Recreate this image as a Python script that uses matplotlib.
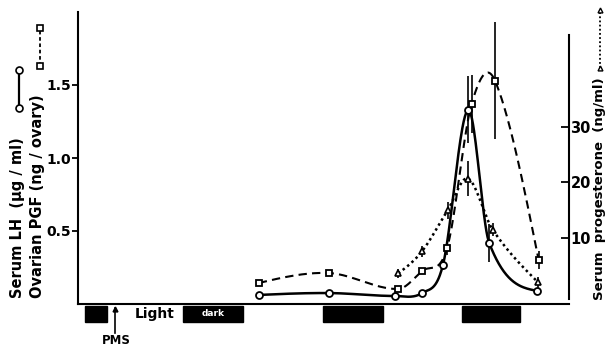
import numpy as np
import matplotlib
matplotlib.use("Agg")
import matplotlib.pyplot as plt
from matplotlib.patches import Rectangle
from matplotlib.lines import Line2D
import matplotlib.transforms as mtransforms

# ---- data (time in hours) ----
lh_t = [31, 43, 54.3, 59, 62.6, 66.9, 70.5, 78.7]
lh_v = [0.062, 0.075, 0.055, 0.075, 0.27, 1.33, 0.42, 0.09]
lh_err = [0.0, 0.0, 0.0, 0.0, 0.04, 0.23, 0.13, 0.0]

pgf_t = [31, 43, 54.9, 59, 63.3, 67.5, 71.5, 79.0]
pgf_v = [0.144, 0.212, 0.103, 0.226, 0.384, 1.37, 1.53, 0.30]
pgf_err = [0.02, 0.02, 0.0, 0.0, 0.05, 0.2, 0.4, 0.06]

prog_t = [54.9, 59, 63.4, 66.9, 71.1, 78.9]
prog_v = [3.6, 7.6, 15.0, 20.7, 11.5, 2.0]
prog_err = [0.8, 1.0, 1.5, 3.1, 1.2, 1.0]

dark_start = [1.2, 18.0, 42.0, 65.8]
dark_end = [5.0, 28.3, 52.3, 75.8]

left_ticks = [0.5, 1.0, 1.5]
left_ticklabels = ["0.5", "1.0", "1.5"]
right_ticks = [10, 20, 30]


def smooth(x, y, n=40):
    x = np.asarray(x, float); y = np.asarray(y, float)
    d = np.diff(y) / np.diff(x)
    m = np.zeros_like(y)
    m[1:-1] = (y[2:] - y[:-2]) / (x[2:] - x[:-2])
    m[0] = (3 * d[0] - m[1]) / 2
    m[-1] = (3 * d[-1] - m[-2]) / 2
    xs, ys = [], []
    for i in range(len(x) - 1):
        h = x[i + 1] - x[i]
        s = np.linspace(0, 1, n)
        h00 = 2 * s**3 - 3 * s**2 + 1
        h10 = s**3 - 2 * s**2 + s
        h01 = -2 * s**3 + 3 * s**2
        h11 = s**3 - s**2
        xs.append(x[i] + s * h)
        ys.append(h00 * y[i] + h10 * h * m[i] + h01 * y[i + 1] + h11 * h * m[i + 1])
    return np.concatenate(xs), np.concatenate(ys)


plt.rcParams['font.family'] = ['DejaVu Sans']
fig = plt.figure(figsize=(6.1, 3.5), dpi=100)
ax = fig.add_axes([78 / 610, 46 / 350, 491 / 610, 292 / 350])
ax2 = ax.twinx()

ax.set_xlim(0, 84.2)
ax.set_ylim(0, 2.0)
ax2.set_ylim(-1.9, 50.7)

# curves
x, y = smooth(lh_t, lh_v)
ax.plot(x, y, color='black', lw=1.8, solid_capstyle='round')
ax.errorbar(lh_t, lh_v, yerr=lh_err, fmt='o', ms=5, mfc='white', mec='black',
            mew=1.3, ecolor='black', elinewidth=1.2, capsize=0, zorder=5)

x, y = smooth(pgf_t, pgf_v)
ax.plot(x, y, color='black', lw=1.5, ls=(0, (4, 2.5)))
ax.errorbar(pgf_t, pgf_v, yerr=pgf_err, fmt='s', ms=4.5, mfc='white', mec='black',
            mew=1.3, ecolor='black', elinewidth=1.2, capsize=0, zorder=5)

x, y = smooth(prog_t, prog_v)
ax2.plot(x, y, color='black', lw=1.8, ls=(0, (1, 1.3)))
ax2.errorbar(prog_t, prog_v, yerr=prog_err, fmt='^', ms=4.5, mfc='white', mec='black',
             mew=1.2, ecolor='black', elinewidth=1.2, capsize=0, zorder=5)

# axes styling
for a in (ax, ax2):
    a.spines['top'].set_visible(False)
    a.set_xticks([])
ax.spines['right'].set_visible(False)
ax2.spines['left'].set_visible(False)
ax2.spines['bottom'].set_visible(False)
for sp in ('left', 'bottom'):
    ax.spines[sp].set_linewidth(1.5)
ax2.spines['right'].set_linewidth(1.5)
ax2.spines['right'].set_bounds(-1.0, 46.6)

ax.set_yticks(left_ticks)
ax.set_yticklabels(left_ticklabels)
ax.tick_params(axis='y', direction='out', length=4, width=1.3, labelsize=10, pad=1)
ax2.set_yticks(right_ticks)
ax2.tick_params(axis='y', direction='in', length=6, width=1.3, labelsize=10.5, pad=1)
for lab in ax.get_yticklabels() + ax2.get_yticklabels():
    lab.set_fontweight('bold')

# light/dark bars
trans = mtransforms.blended_transform_factory(ax.transData, ax.transAxes)
for s, e in zip(dark_start, dark_end):
    ax.add_patch(Rectangle((s, -0.0616), e - s, 0.055, transform=trans,
                           facecolor='black', edgecolor='black', clip_on=False))
ax.text((dark_start[1] + dark_end[1]) / 2, -0.034, 'dark', transform=trans,
        color='white', fontsize=6.5, fontweight='bold', ha='center', va='center')
fig.text(135 / 610, 1 - 314 / 350, 'Light', fontsize=10, fontweight='bold',
         ha='left', va='center')
fig.text(116 / 610, 1 - 340 / 350, 'PMS', fontsize=8.5, fontweight='bold',
         ha='center', va='center')
fig.add_artist(Line2D([115 / 610, 115 / 610], [1 - 333 / 350, 1 - 308 / 350],
                      color='black', lw=1.2))
fig.add_artist(Line2D([115 / 610], [1 - 309 / 350], marker='^', ms=3.5,
                      color='black', lw=0))

# left labels with symbols
fig.text(18 / 610, 1 - 298 / 350, 'Serum LH  (µg / ml)', rotation=90,
         fontsize=10.5, fontweight='bold', ha='center', va='bottom')
fig.text(38 / 610, 1 - 298 / 350, 'Ovarian PGF (ng / ovary)', rotation=90,
         fontsize=10.5, fontweight='bold', ha='center', va='bottom')
fig.add_artist(Line2D([19 / 610, 19 / 610], [1 - 108 / 350, 1 - 70 / 350],
                      color='black', lw=1.6, marker='o', ms=5, mfc='white',
                      mec='black', mew=1.2))
fig.add_artist(Line2D([40 / 610, 40 / 610], [1 - 66 / 350, 1 - 28 / 350],
                      color='black', lw=1.3, ls=(0, (2, 1.5)), marker='s', ms=4,
                      mfc='white', mec='black', mew=1.2))

# right label with symbol
fig.text(600 / 610, 1 - 300 / 350, 'Serum  progesterone  (ng/ml)', rotation=90,
         fontsize=9.5, fontweight='bold', ha='center', va='bottom')
fig.add_artist(Line2D([600 / 610, 600 / 610], [1 - 68 / 350, 1 - 10 / 350],
                      color='black', lw=1.3, ls=(0, (1, 1.3)), marker='^', ms=3.5,
                      mfc='white', mec='black', mew=1.0))

fig.savefig('out.png', dpi=100)
